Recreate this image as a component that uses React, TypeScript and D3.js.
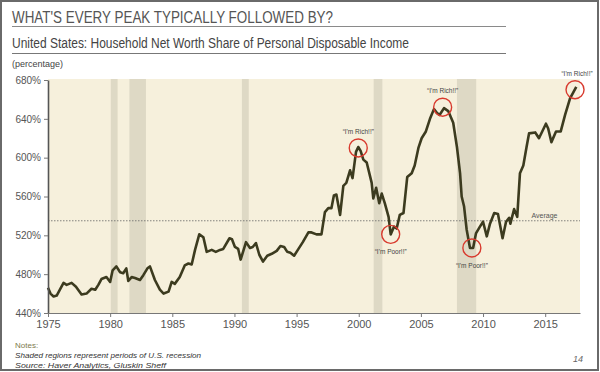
import React, { useEffect, useMemo, useRef } from "react";
import * as d3 from "d3";

const WIDTH = 600;
const HEIGHT = 372;
const PLOT = { left: 48, right: 580, top: 79, bottom: 313 };
const FONT = "'Liberation Sans', Arial, sans-serif";

// quarterly-ish points
const years = [
  1975.0, 1975.2, 1975.45, 1975.7, 1976.0, 1976.25, 1976.5, 1976.9, 1977.25, 1977.7,
  1978.1, 1978.5, 1978.8, 1979.05, 1979.3, 1979.7, 1980.0, 1980.2, 1980.5, 1980.8,
  1981.05, 1981.3, 1981.46, 1981.73, 1982.0, 1982.4, 1982.67, 1983.0, 1983.2, 1983.6,
  1984.0, 1984.3, 1984.7, 1984.95, 1985.2, 1985.6, 1986.0, 1986.3, 1986.56, 1986.83,
  1987.17, 1987.5, 1987.77, 1988.17, 1988.5, 1988.84, 1989.1, 1989.6, 1989.8, 1990.04,
  1990.3, 1990.5, 1990.93, 1991.25, 1991.47, 1991.73, 1992.0, 1992.3, 1992.64, 1993.0,
  1993.4, 1993.7, 1994.0, 1994.25, 1994.5, 1994.8, 1995.1, 1995.5, 1995.95, 1996.2,
  1996.6, 1997.0, 1997.28, 1997.55, 1997.8, 1998.0, 1998.2, 1998.5, 1998.76, 1999.0,
  1999.3, 1999.5, 1999.78, 1999.96, 2000.15, 2000.37, 2000.64, 2001.04, 2001.17, 2001.4,
  2001.65, 2001.85, 2002.1, 2002.4, 2002.57, 2002.84, 2003.05, 2003.3, 2003.6, 2003.9,
  2004.26, 2004.5, 2004.8, 2005.06, 2005.4, 2005.73, 2006.05, 2006.3, 2006.5, 2006.86,
  2007.2, 2007.6, 2007.9, 2008.15, 2008.28, 2008.47, 2008.68, 2008.95, 2009.2, 2009.43,
  2009.75, 2010.0, 2010.3, 2010.56, 2010.9, 2011.2, 2011.57, 2011.85, 2012.1, 2012.2,
  2012.5, 2012.75, 2012.97, 2013.24, 2013.5, 2013.7, 2014.2, 2014.5, 2015.06, 2015.24,
  2015.5, 2015.87, 2016.25, 2016.6, 2017.0, 2017.5,
];

const netWorthShare = [
  466, 460, 457, 458, 465, 471, 469, 471, 467, 459,
  460, 465, 464, 469, 475, 477, 472, 484, 488, 482,
  481, 486, 473, 477, 476, 474, 479, 486, 488, 474,
  464, 460, 462, 472, 470, 477, 489, 491, 490, 505,
  521, 518, 503, 505, 503, 505, 506, 517, 516, 508,
  506, 495, 513, 507, 508, 512, 500, 493, 499, 501,
  504, 509, 508, 503, 502, 499, 505, 513, 523, 523,
  521, 521, 544, 548, 548, 561, 562, 541, 571, 574,
  587, 579, 606, 611, 607, 598, 595, 574, 558, 569,
  553, 563, 553, 539, 521, 529, 527, 541, 543, 580,
  584, 592, 610, 620, 627, 640, 650, 646, 644, 651,
  648, 636, 611, 584, 560, 550, 526, 507, 507, 522,
  529, 534, 519, 532, 543, 542, 517, 534, 538, 532,
  547, 539, 584, 592, 611, 625, 626, 620, 635, 630,
  616, 627, 627, 644, 661, 673,
];

const recessionStart = [1980.05, 1981.55, 1990.6, 2001.2, 2007.9];
const recessionEnd = [1980.6, 1982.88, 1991.15, 2001.9, 2009.45];

const AVERAGE = 535;

const xTicks = [1975, 1980, 1985, 1990, 1995, 2000, 2005, 2010, 2015];
const yTicks = [440, 480, 520, 560, 600, 640, 680];

// peaks and troughs that get a red circle
const calloutYear = [1999.96, 2006.75, 2002.57, 2009.1, 2017.4];
const calloutValue = [610, 652, 521, 507, 670];
const calloutText = ["\u201cI'm Rich!!\u201d", "\u201cI'm Rich!!\u201d", "\u201cI'm Poor!!\u201d", "\u201cI'm Poor!!\u201d", "\u201cI'm Rich!!\u201d"];
const calloutAbove = [true, true, false, false, true];

const App = () => {
  const axesRef = useRef<SVGGElement>(null);

  const xScale = useMemo(
    () => d3.scaleLinear().domain([1975, 2017.8]).range([PLOT.left, PLOT.right]),
    []
  );
  const yScale = useMemo(
    () => d3.scaleLinear().domain([440, 680]).range([PLOT.bottom, PLOT.top + 1]),
    []
  );

  useEffect(() => {
    const g = d3.select(axesRef.current);
    g.selectAll("*").remove();

    const yAxis = g
      .append("g")
      .attr("transform", `translate(${PLOT.left},0)`)
      .call(
        d3
          .axisLeft(yScale)
          .tickValues(yTicks)
          .tickSize(4)
          .tickSizeOuter(0)
          .tickFormat((d) => `${d}%`)
      );
    yAxis.select(".domain").attr("stroke", "#555").attr("stroke-width", 1.6);
    yAxis.selectAll(".tick line").attr("stroke", "#777");
    yAxis
      .selectAll(".tick text")
      .attr("fill", "#555")
      .attr("font-size", 10)
      .attr("font-family", FONT)
      .attr("x", -7);

    const xAxis = g
      .append("g")
      .attr("transform", `translate(0,${PLOT.bottom})`)
      .call(d3.axisBottom(xScale).tickValues(xTicks).tickSize(4).tickSizeOuter(0).tickFormat(d3.format("d")));
    xAxis.select(".domain").attr("stroke", "#777").attr("stroke-width", 1.2);
    xAxis.selectAll(".tick line").attr("stroke", "#777");
    xAxis
      .selectAll(".tick text")
      .attr("fill", "#555")
      .attr("font-size", 11)
      .attr("font-family", FONT)
      .attr("y", 7);
  }, [xScale, yScale]);

  const line = d3
    .line<number>()
    .x((_, i) => xScale(years[i]))
    .y((d) => yScale(d));

  return (
    <svg width={WIDTH} height={HEIGHT} style={{ position: "absolute", left: 0, top: 0, background: "#fff" }}>
      <rect x={1} y={1} width={WIDTH - 3} height={HEIGHT - 3} fill="#fff" stroke="#6a6a6a" strokeWidth={2} />

      <text x={12} y={23} fontFamily={FONT} fontSize={16.5} fill="#555" textLength={321} lengthAdjust="spacingAndGlyphs">
        WHAT'S EVERY PEAK TYPICALLY FOLLOWED BY?
      </text>
      <line x1={12} x2={506} y1={26.5} y2={26.5} stroke="#8a8a8a" strokeWidth={1.2} />
      <text x={12} y={48} fontFamily={FONT} fontSize={14} fill="#444" textLength={397} lengthAdjust="spacingAndGlyphs">
        United States: Household Net Worth Share of Personal Disposable Income
      </text>
      <line x1={12} x2={506} y1={53.5} y2={53.5} stroke="#777" strokeWidth={1.2} />
      <text x={12} y={67} fontFamily={FONT} fontSize={9} fill="#444">
        (percentage)
      </text>

      <rect
        x={PLOT.left}
        y={PLOT.top}
        width={PLOT.right - PLOT.left}
        height={PLOT.bottom - PLOT.top}
        fill="#f6f0dc"
      />
      {recessionStart.map((s, i) => (
        <rect
          key={i}
          x={xScale(s)}
          y={PLOT.top}
          width={xScale(recessionEnd[i]) - xScale(s)}
          height={PLOT.bottom - PLOT.top}
          fill="#deD9c5"
        />
      ))}

      <line
        x1={PLOT.left}
        x2={PLOT.right}
        y1={yScale(AVERAGE)}
        y2={yScale(AVERAGE)}
        stroke="#666"
        strokeWidth={0.8}
        strokeDasharray="1.5,1.5"
      />
      <text x={xScale(2013.9)} y={yScale(AVERAGE) - 3} fontFamily={FONT} fontSize={7} fill="#555">
        Average
      </text>

      <path d={line(netWorthShare) ?? ""} fill="none" stroke="#3c3b1f" strokeWidth={2.6} strokeLinejoin="round" />

      {calloutYear.map((yr, i) => {
        const cx = xScale(yr);
        const cy = yScale(calloutValue[i]);
        return (
          <g key={i}>
            <circle cx={cx} cy={cy} r={9} fill="none" stroke="#d83a2e" strokeWidth={1.4} />
            <text
              x={cx + (i === 4 ? 2 : 0)}
              y={calloutAbove[i] ? cy - 14 : cy + 20}
              textAnchor="middle"
              fontFamily={FONT}
              fontSize={6.5}
              fill="#444"
            >
              {calloutText[i]}
            </text>
          </g>
        );
      })}

      <g ref={axesRef} />

      <text x={15} y={348} fontFamily={FONT} fontSize={8} fill="#7d7a4c">
        Notes:
      </text>
      <text x={15} y={358} fontFamily={FONT} fontSize={8} fontStyle="italic" fill="#333" textLength={186} lengthAdjust="spacingAndGlyphs">
        Shaded regions represent periods of U.S. recession
      </text>
      <text x={15} y={368} fontFamily={FONT} fontSize={8} fontStyle="italic" fill="#333" textLength={151} lengthAdjust="spacingAndGlyphs">
        Source: Haver Analytics, Gluskin Sheff
      </text>
      <text x={583} y={362} textAnchor="end" fontFamily={FONT} fontSize={9} fontStyle="italic" fill="#666">
        14
      </text>
    </svg>
  );
};

export default App;
